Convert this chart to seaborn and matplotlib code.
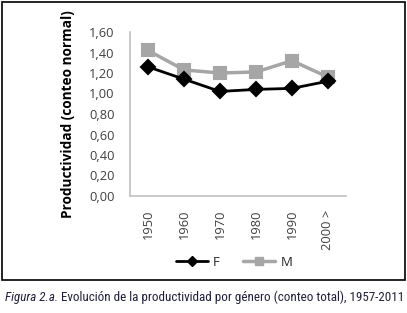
import matplotlib
matplotlib.use("Agg")
import matplotlib.pyplot as plt
import seaborn as sns
import pandas as pd
from matplotlib.lines import Line2D
from matplotlib.patches import Rectangle
from matplotlib import font_manager

years = ["1950", "1960", "1970", "1980", "1990", "2000 >"]
f_vals = [1.26, 1.14, 1.02, 1.04, 1.05, 1.12]
m_vals = [1.42, 1.23, 1.20, 1.21, 1.32, 1.16]
y_ticks = [0.0, 0.2, 0.4, 0.6, 0.8, 1.0, 1.2, 1.4, 1.6]
caption_italic = "Figura 2.a."
caption_rest = " Evolución de la productividad por género (conteo total), 1957-2011"

df = pd.DataFrame({
    "year": years * 2,
    "val": f_vals + m_vals,
    "sex": ["F"] * len(years) + ["M"] * len(years),
})

sns.set_style("white")
names = {f.name for f in font_manager.fontManager.ttflist}
base = "Open Sans" if "Open Sans" in names else "DejaVu Sans"
narrow = None
for cand in ["Liberation Sans Narrow", "DejaVu Sans Condensed", "Roboto Condensed"]:
    if cand in names:
        narrow = cand
        break
plt.rcParams["font.family"] = [base, "DejaVu Sans"]

W, H = 407, 313
fig = plt.figure(figsize=(W / 100, H / 100), dpi=100)
ax = fig.add_axes([130 / W, 1 - 196 / H, (346 - 130) / W, (196 - 32) / H])

F_COL = "#000000"
M_COL = "#a6a6a6"
sns.pointplot(data=df, x="year", y="val", hue="sex", order=years,
              palette={"F": F_COL, "M": M_COL}, markers=["D", "s"],
              linestyles=["-", "-"], ax=ax, markersize=6, linewidth=2,
              legend=False, errorbar=None)
for ln in ax.lines:
    if matplotlib.colors.to_hex(ln.get_color()) == M_COL:
        ln.set_markersize(8)
        ln.set_linewidth(2.5)
        ln.set_zorder(2)
    else:
        ln.set_markersize(7)
        ln.set_zorder(3)

ax.set_ylim(0, 1.6)
ax.set_xlim(-0.5, len(years) - 0.5)
ax.set_yticks(y_ticks)
ax.set_yticklabels([f"{v:.2f}".replace(".", ",") for v in y_ticks])
ax.set_xticks(range(len(years)))
ax.set_xticklabels(years, rotation=90)
ax.tick_params(axis="both", length=0, labelsize=9.3, colors="#404040")
ax.tick_params(axis="y", pad=11)
ax.tick_params(axis="x", pad=10)
for s in ["top", "right"]:
    ax.spines[s].set_visible(False)
for s in ["left", "bottom"]:
    ax.spines[s].set_color("#c0c0c0")
    ax.spines[s].set_linewidth(1.2)
ax.set_xlabel("")
ax.set_ylabel("Productividad (conteo normal)", fontsize=9.8, fontweight="bold",
              color="#000000", labelpad=10)
ax.grid(False)

handles = [Line2D([], [], color=F_COL, marker="D", markersize=5, lw=2),
           Line2D([], [], color=M_COL, marker="s", markersize=6, lw=2.5)]
fig.legend(handles, ["F", "M"], loc="center", bbox_to_anchor=(234 / W, 1 - 262 / H),
           ncol=2, frameon=False, fontsize=9.5, handlelength=2.4,
           columnspacing=1.8, handletextpad=0.4)

fig.patches.append(Rectangle((1.5 / W, 1 - 280 / H), 403 / W, 278.5 / H,
                             transform=fig.transFigure, fill=False,
                             edgecolor="black", linewidth=1.2))

cap_fam = [narrow, "DejaVu Sans"] if narrow else [base]
cap_size = 9.4 if narrow else 7.4
t1 = fig.text(5 / W, 1 - 297 / H, caption_italic, fontsize=cap_size,
              style="italic", family=cap_fam, color="#1f1f3a", va="center")
fig.canvas.draw()
bb = t1.get_window_extent(renderer=fig.canvas.get_renderer())
x2 = bb.x1 / W
fig.text(x2, 1 - 297 / H, caption_rest, fontsize=cap_size, family=cap_fam,
         color="#1f1f3a", va="center")

fig.savefig("out.png", dpi=100)
